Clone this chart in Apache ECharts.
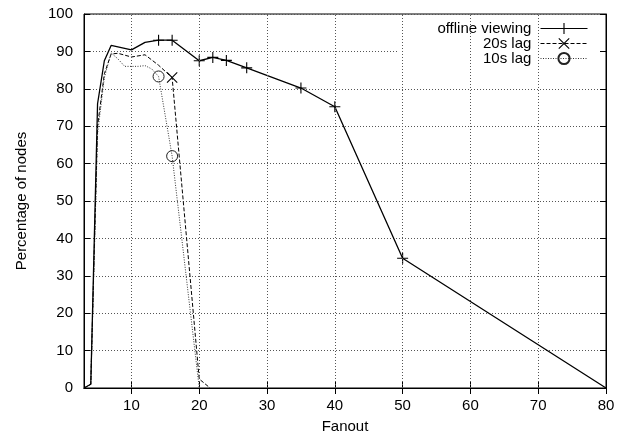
<!DOCTYPE html>
<html>
<head>
<meta charset="utf-8">
<script src="https://cdn.jsdelivr.net/npm/echarts@6/dist/echarts.min.js"></script>
<style>
html,body{margin:0;padding:0;background:#fff;}
#chart{width:626px;height:439px;}
</style>
</head>
<body>
<div id="chart"></div>
<script>
// ---- data ----
const xTicks = [10, 20, 30, 40, 50, 60, 70, 80];
const yTicks = [0, 10, 20, 30, 40, 50, 60, 70, 80, 90, 100];

const offlineFanout = [3, 4, 5, 6, 7, 10, 12, 14, 16, 20, 22, 24, 27, 35, 40, 50, 80];
const offlineValues = [0, 1, 76, 87.5, 91.6, 90.4, 92.4, 93, 93, 87.5, 88.4, 87.6, 85.6, 80.2, 75.2, 34.7, 0];
const offlineMarked = [14, 16, 20, 22, 24, 27, 35, 40, 50];

const lag20Fanout = [3, 4, 5, 6, 7, 8, 10, 12, 14, 16, 20, 21.6];
const lag20Values = [0, 1, 70, 84, 89.3, 89.5, 88.5, 89.1, 86.3, 83, 2.4, 0];
const lag20Marked = [16];

const lag10Fanout = [3, 4, 5, 6, 7, 8, 9, 10, 11, 12, 13, 14, 16, 20];
const lag10Values = [0, 1, 68, 83, 89.6, 88, 86, 86, 86, 86.2, 85.3, 83.3, 62, 0];
const lag10Marked = [14, 16];

const seriesNames = ['offline viewing', '20s lag', '10s lag'];

// ---- helpers ----
function build(xs, ys, marked) {
  return xs.map((x, i) => {
    const item = { value: [x, ys[i]] };
    if (marked.indexOf(x) < 0) item.symbol = 'none';
    return item;
  });
}

const PLUS = 'path://M0,9H20V11H0Z M9,0H11V20H9Z';
const CROSS = 'path://M0,1.4L1.4,0L20,18.6L18.6,20Z M18.6,0L20,1.4L1.4,20L0,18.6Z';
const FONT = 'Liberation Sans, Arial, sans-serif';

const chart = echarts.init(document.getElementById('chart'), null, { renderer: 'canvas' });

const gridLine = { show: true, lineStyle: { color: '#555', type: [1, 2], width: 1 } };

const option = {
  backgroundColor: '#fff',
  animation: false,
  textStyle: { fontFamily: FONT, color: '#000' },
  grid: { left: 84, right: 20, top: 14, bottom: 50, show: true, borderColor: '#000', borderWidth: 1, containLabel: false },
  legend: {
    orient: 'vertical',
    right: 26,
    top: 15,
    align: 'right',
    backgroundColor: '#fff',
    padding: [6, 12, 2, 40],
    itemWidth: 47,
    itemHeight: 14,
    itemGap: 0,
    lineStyle: { width: 1 },
    formatter: n => n + ' ',
    textStyle: { fontSize: 15, color: '#000', fontFamily: FONT },
    data: seriesNames
  },
  xAxis: [
    {
      type: 'value', min: 3, max: 80,
      name: 'Fanout', nameLocation: 'middle', nameGap: 31,
      nameTextStyle: { fontSize: 15, color: '#000', fontFamily: FONT },
      axisLine: { show: true, lineStyle: { color: '#000', width: 1 } },
      axisTick: { show: true, inside: true, length: 6, customValues: xTicks, lineStyle: { color: '#000' } },
      axisLabel: { show: true, customValues: xTicks, margin: 10, fontSize: 15, color: '#000', fontFamily: FONT },
      splitLine: { show: false }
    },
    {
      type: 'value', min: 3, max: 80, position: 'top',
      axisLine: { show: true, lineStyle: { color: '#000', width: 1 } },
      axisTick: { show: true, inside: true, length: 6, customValues: xTicks, lineStyle: { color: '#000' } },
      axisLabel: { show: false },
      splitLine: { show: false }
    }
  ],
  yAxis: [
    {
      type: 'value', min: 0, max: 100, interval: 10,
      name: 'Percentage of nodes', nameLocation: 'middle', nameGap: 55,
      nameTextStyle: { fontSize: 15, color: '#000', fontFamily: FONT },
      axisLine: { show: true, lineStyle: { color: '#000', width: 1 } },
      axisTick: { show: true, inside: true, length: 6, lineStyle: { color: '#000' } },
      axisLabel: { margin: 11, fontSize: 15, color: '#000', fontFamily: FONT },
      splitLine: gridLine
    },
    {
      type: 'value', min: 0, max: 100, interval: 10, position: 'right',
      axisLine: { show: true, lineStyle: { color: '#000', width: 1 } },
      axisTick: { show: true, inside: true, length: 6, lineStyle: { color: '#000' } },
      axisLabel: { show: false },
      splitLine: { show: false }
    }
  ],
  series: [
    {
      name: '__grid', type: 'line', data: [], silent: true, z: 1,
      markLine: {
        silent: true, symbol: 'none', label: { show: false },
        lineStyle: { color: '#555', type: [1, 2], width: 1 },
        data: xTicks.filter(v => v < 80).map(v => ({ xAxis: v }))
      }
    },
    {
      name: seriesNames[0], type: 'line', z: 4,
      data: build(offlineFanout, offlineValues, offlineMarked),
      symbol: PLUS, symbolSize: 11, showAllSymbol: true,
      lineStyle: { color: '#000', width: 1.3, type: 'solid' },
      itemStyle: { color: '#000', borderWidth: 0 }
    },
    {
      name: seriesNames[1], type: 'line', z: 3,
      data: build(lag20Fanout, lag20Values, lag20Marked),
      symbol: CROSS, symbolSize: 11, showAllSymbol: true,
      lineStyle: { color: '#000', width: 1, type: [4, 2] },
      itemStyle: { color: '#000', borderWidth: 0 }
    },
    {
      name: seriesNames[2], type: 'line', z: 3,
      data: build(lag10Fanout, lag10Values, lag10Marked),
      symbol: 'circle', symbolSize: 11, showAllSymbol: true,
      lineStyle: { color: '#333', width: 1, type: [1, 1.5] },
      itemStyle: { color: 'rgba(0,0,0,0)', borderColor: '#222', borderWidth: 1 }
    }
  ]
};
chart.setOption(option);
</script>
</body>
</html>
